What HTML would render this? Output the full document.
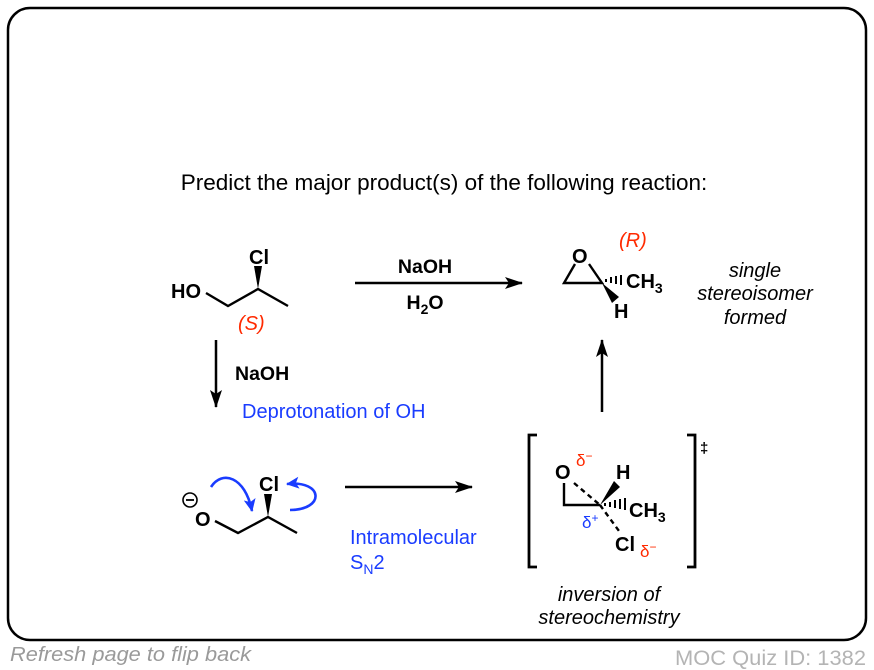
<!DOCTYPE html>
<html><head><style>
html,body{margin:0;padding:0;background:#fff;}
svg{display:block;font-family:"Liberation Sans",Arial,sans-serif;}
</style></head><body>
<svg width="874" height="670" viewBox="0 0 874 670" xmlns="http://www.w3.org/2000/svg">
<defs>
<marker id="ah" markerWidth="18" markerHeight="12" refX="17" refY="6" orient="auto" markerUnits="userSpaceOnUse"><path d="M0,0 L18,6 L0,12 L4,6 Z" fill="#000"/></marker>
<marker id="bh" markerWidth="14" markerHeight="12" refX="12" refY="6" orient="auto" markerUnits="userSpaceOnUse"><path d="M0,0 L13,6 L0,12 L3,6 Z" fill="#1a3cff"/></marker>
</defs>
<rect x="8" y="8" width="858" height="632" rx="22" fill="#fff" stroke="#000" stroke-width="2.5"/>
<text x="444" y="190" font-size="22.5" text-anchor="middle">Predict the major product(s) of the following reaction:</text>

<!-- molecule 1 -->
<text x="171" y="298" font-size="20" font-weight="bold">HO</text>
<polyline points="206,293 228,306 258,289 288,306" fill="none" stroke="#000" stroke-width="2.4"/>
<polygon points="258,289 254,266 262,266" fill="#000"/>
<text x="249" y="264" font-size="20" font-weight="bold">Cl</text>
<text x="238" y="330" font-size="20" font-style="italic" fill="#ff2a00">(S)</text>

<!-- top arrow -->
<line x1="355" y1="283" x2="522" y2="283" stroke="#000" stroke-width="2.5" marker-end="url(#ah)"/>
<text x="425" y="273" font-size="19.5" font-weight="bold" text-anchor="middle">NaOH</text>
<text x="425" y="309" font-size="19.5" font-weight="bold" text-anchor="middle">H<tspan font-size="14" dy="5">2</tspan><tspan dy="-5">O</tspan></text>

<!-- epoxide -->
<text x="572" y="263" font-size="20" font-weight="bold">O</text>
<polyline points="575,264 564,283 602,283 589,264" fill="none" stroke="#000" stroke-width="2.4"/>
<g stroke="#000" stroke-width="2">
<line x1="606" y1="282" x2="606" y2="279"/><line x1="611" y1="283" x2="611" y2="277"/><line x1="616" y1="284" x2="616" y2="276"/><line x1="621" y1="285" x2="621" y2="275"/></g>
<polygon points="602,283 619,297 612,303" fill="#000"/>
<text x="626" y="288" font-size="20" font-weight="bold">CH<tspan font-size="14" dy="5">3</tspan></text>
<text x="614" y="318" font-size="20" font-weight="bold">H</text>
<text x="619" y="247" font-size="20" font-style="italic" fill="#ff2a00">(R)</text>
<g font-size="20" font-style="italic" text-anchor="middle">
<text x="755" y="277">single</text><text x="755" y="300">stereoisomer</text><text x="755" y="324">formed</text></g>

<!-- down arrow -->
<line x1="216" y1="340" x2="216" y2="407" stroke="#000" stroke-width="2.5" marker-end="url(#ah)"/>
<text x="235" y="380" font-size="19.5" font-weight="bold">NaOH</text>
<text x="242" y="418" font-size="20" fill="#1a3cff">Deprotonation of OH</text>

<!-- molecule 3 -->
<circle cx="190" cy="500" r="7" fill="none" stroke="#000" stroke-width="1.6"/>
<line x1="186" y1="500" x2="194" y2="500" stroke="#000" stroke-width="1.8"/>
<text x="195" y="526" font-size="20" font-weight="bold">O</text>
<polyline points="215,521 238,533 268,517 297,533" fill="none" stroke="#000" stroke-width="2.4"/>
<polygon points="268,517 264,494 272,494" fill="#000"/>
<text x="259" y="491" font-size="20" font-weight="bold">Cl</text>
<path d="M211,487 C222,470 245,476 252,511" fill="none" stroke="#1a3cff" stroke-width="2.6" marker-end="url(#bh)"/>
<path d="M290,510 C325,510 324,480 287,484" fill="none" stroke="#1a3cff" stroke-width="2.6" marker-end="url(#bh)"/>

<!-- right arrow -->
<line x1="345" y1="487" x2="472" y2="487" stroke="#000" stroke-width="2.5" marker-end="url(#ah)"/>
<text x="350" y="544" font-size="20" fill="#1a3cff">Intramolecular</text>
<text x="350" y="569" font-size="20" fill="#1a3cff">S<tspan font-size="14" dy="5">N</tspan><tspan dy="-5">2</tspan></text>

<!-- TS -->
<path d="M537,435 L529,435 L529,567 L537,567" fill="none" stroke="#000" stroke-width="2.8"/>
<path d="M687,435 L695,435 L695,567 L687,567" fill="none" stroke="#000" stroke-width="2.8"/>
<text x="700" y="453" font-size="15" font-weight="bold">‡</text>
<text x="555" y="479" font-size="20" font-weight="bold">O</text>
<text x="576" y="466" font-size="17" fill="#ff2a00">δ<tspan font-size="12" dy="-6">−</tspan></text>
<polyline points="564,483 564,505 600,505" fill="none" stroke="#000" stroke-width="2.4"/>
<line x1="574" y1="483" x2="600" y2="505" stroke="#000" stroke-width="2.4" stroke-dasharray="5,4"/>
<polygon points="600,505 614,481 620,487" fill="#000"/>
<text x="616" y="479" font-size="20" font-weight="bold">H</text>
<g stroke="#000" stroke-width="2">
<line x1="605" y1="506" x2="605" y2="503"/><line x1="610" y1="507" x2="610" y2="502"/><line x1="615" y1="508" x2="615" y2="500"/><line x1="620" y1="509" x2="620" y2="499"/><line x1="625" y1="510" x2="625" y2="498"/></g>
<text x="629" y="517" font-size="20" font-weight="bold">CH<tspan font-size="14" dy="5">3</tspan></text>
<line x1="600" y1="505" x2="619" y2="531" stroke="#000" stroke-width="2.4" stroke-dasharray="5,4"/>
<text x="615" y="551" font-size="20" font-weight="bold">Cl</text>
<text x="582" y="528" font-size="17" fill="#1a3cff">δ<tspan font-size="12" dy="-6">+</tspan></text>
<text x="640" y="557" font-size="17" fill="#ff2a00">δ<tspan font-size="12" dy="-6">−</tspan></text>
<g font-size="20" font-style="italic" text-anchor="middle">
<text x="609" y="601">inversion of</text><text x="609" y="624">stereochemistry</text></g>

<!-- up arrow -->
<line x1="602" y1="412" x2="602" y2="340" stroke="#000" stroke-width="2.5" marker-end="url(#ah)"/>

<text x="10" y="661" font-size="20" font-style="italic" fill="#9a9a9a" textLength="241" lengthAdjust="spacingAndGlyphs">Refresh page to flip back</text>
<text x="866" y="665" font-size="21" fill="#b4b4b4" text-anchor="end" textLength="191" lengthAdjust="spacingAndGlyphs">MOC Quiz ID: 1382</text>
</svg>
</body></html>
